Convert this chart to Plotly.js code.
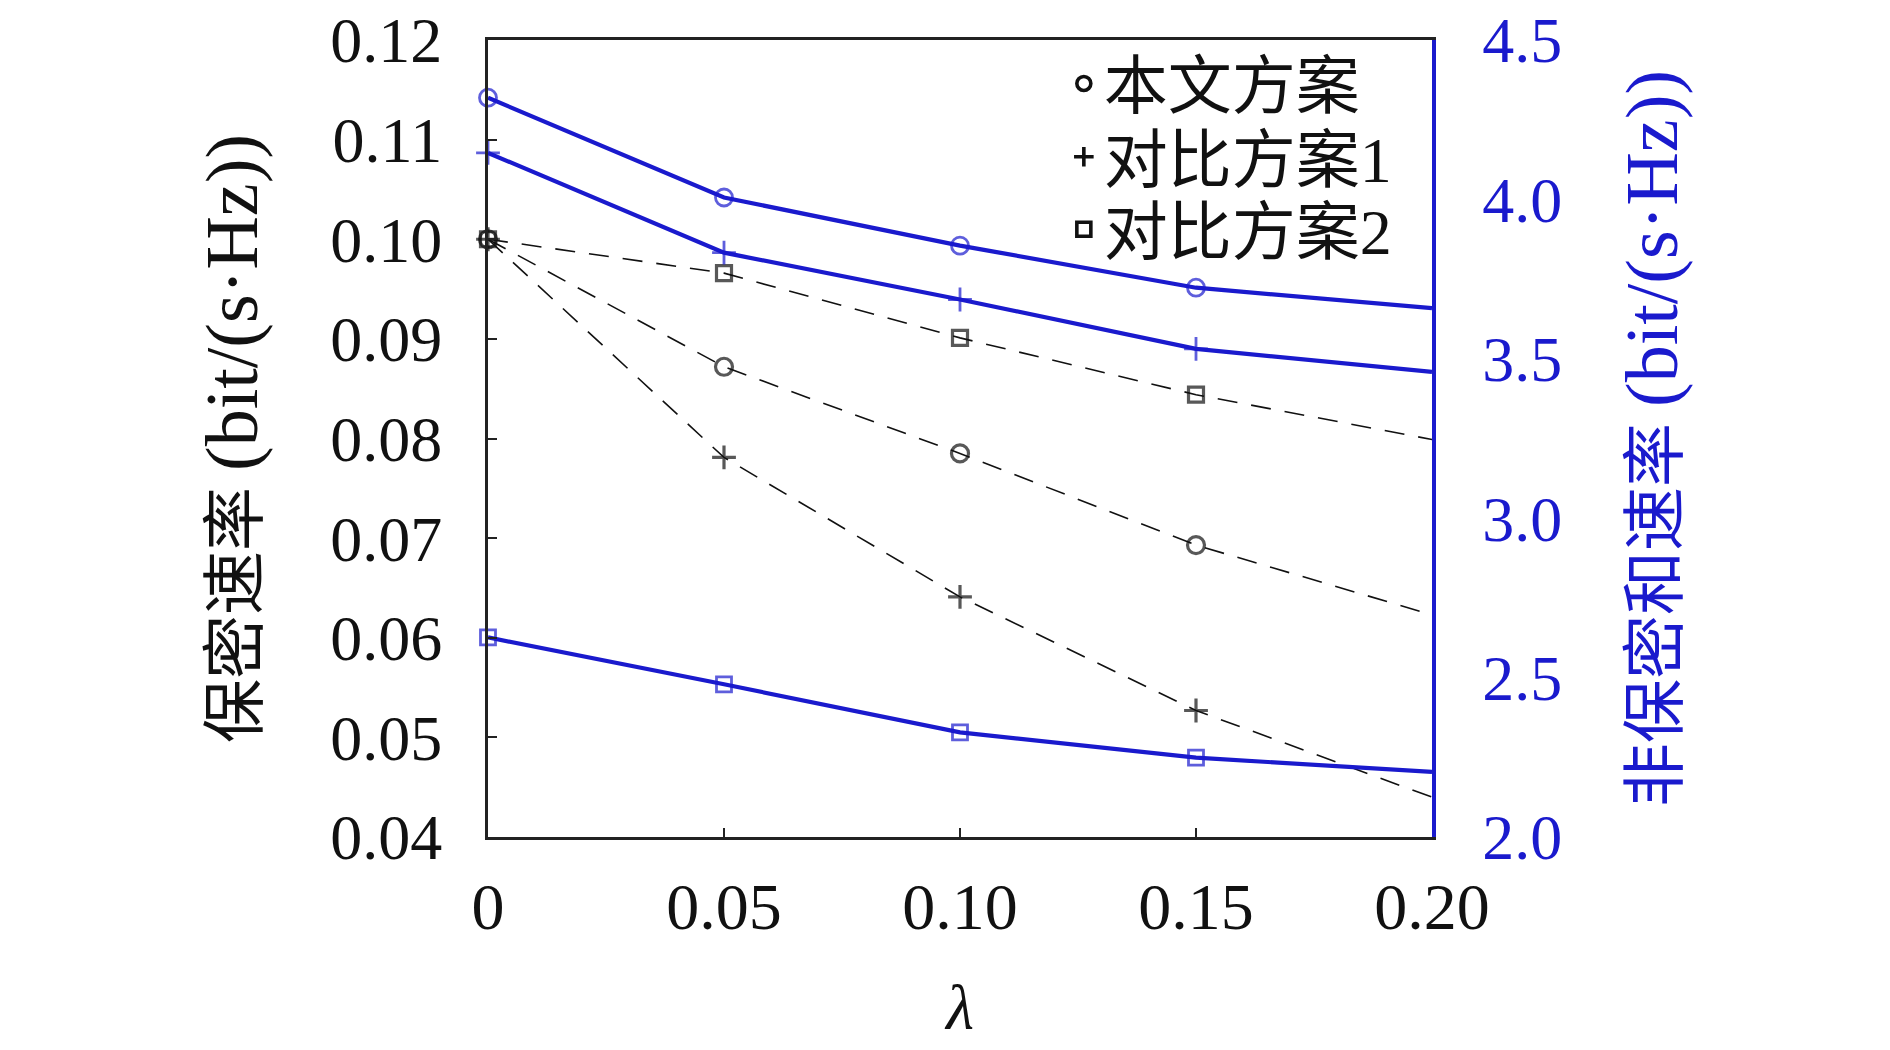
<!DOCTYPE html>
<html>
<head>
<meta charset="utf-8">
<script src="https://cdn.plot.ly/plotly-3.0.1.min.js"></script>
<style>html,body{margin:0;padding:0;background:#fff;}#chart{width:1890px;height:1050px;}</style>
</head>
<body>
<div id="chart"></div>
<script>
// ---- data ----
const lambda = [0, 0.05, 0.10, 0.15, 0.20];
const xTickVals = [0, 0.05, 0.10, 0.15, 0.20];
const xTickText = ['0', '0.05', '0.10', '0.15', '0.20'];
const yTickVals = [0.04, 0.05, 0.06, 0.07, 0.08, 0.09, 0.10, 0.11, 0.12];
const yTickText = ['0.04', '0.05', '0.06', '0.07', '0.08', '0.09', '0.10', '0.11', '0.12'];
const y2TickVals = [2.0, 2.5, 3.0, 3.5, 4.0, 4.5];
const y2TickText = ['2.0', '2.5', '3.0', '3.5', '4.0', '4.5'];

const schemeNames = ['本文方案', '对比方案1', '对比方案2'];
// secrecy rate (left axis)
const secProposed = [0.1000, 0.0872, 0.0785, 0.0693, 0.0623];
const secCompare1 = [0.1000, 0.0781, 0.0641, 0.0527, 0.0440];
const secCompare2 = [0.1000, 0.0966, 0.0901, 0.0844, 0.0799];
// non-secrecy sum rate (right axis)
const sumProposed = [4.319, 4.006, 3.855, 3.723, 3.659];
const sumCompare1 = [4.146, 3.833, 3.686, 3.531, 3.459];
const sumCompare2 = [2.626, 2.479, 2.328, 2.249, 2.204];

// ---- styles ----
const BLUE = '#1a1acd';
const FONT = '"Liberation Serif", "Noto Sans CJK SC", serif';
const symbols = ['circle-open', 'cross-thin-open', 'square-open'];
const msizes = [17, 17, 15];
const mk = (s) => [s, s, s, s, 0];

const secSeries = [secProposed, secCompare1, secCompare2];
const sumSeries = [sumProposed, sumCompare1, sumCompare2];

const traces = [];
secSeries.forEach((ys, i) => {
  traces.push({
    x: lambda, y: ys, type: 'scatter', mode: 'lines+markers', yaxis: 'y',
    showlegend: false, name: schemeNames[i],
    line: {color: '#111', width: 1.6, dash: '20px,14px'},
    marker: {symbol: symbols[i], size: mk(msizes[i]), color: '#111', line: {color: '#111', width: 3.2}},
    cliponaxis: false
  });
});
sumSeries.forEach((ys, i) => {
  traces.push({
    x: lambda, y: ys, type: 'scatter', mode: 'lines+markers', yaxis: 'y2',
    showlegend: false, name: schemeNames[i],
    line: {color: BLUE, width: 4.2},
    marker: {symbol: symbols[i], size: mk(msizes[i]), color: BLUE, line: {color: BLUE, width: 2.8}},
    cliponaxis: false
  });
});
// legend entries (markers only, black), one legend box per row
const legendIds = ['legend', 'legend2', 'legend3'];
schemeNames.forEach((n, i) => {
  traces.push({
    x: [null], y: [null], type: 'scatter', mode: 'markers', yaxis: 'y',
    name: n, showlegend: true, legend: legendIds[i],
    marker: {symbol: symbols[i], size: 14, color: '#111', line: {color: '#111', width: 3.6}}
  });
});

const legendRowY = [0.945, 0.853, 0.762];
const legendBase = (yy) => ({
  x: 0.610, y: yy, xanchor: 'left', yanchor: 'middle',
  bgcolor: 'rgba(0,0,0,0)', borderwidth: 0,
  font: {family: FONT, size: 64, color: '#111'},
  itemwidth: 30
});

const leftTitle = '保密速率 <span style="font-size:74px">(bit/(s·Hz))</span>';
const rightTitle = '非保密和速率 <span style="font-size:74px">(bit/(s·Hz))</span>';

const layout = {
  width: 1890, height: 1050,
  margin: {l: 488, r: 458, t: 40, b: 213},
  paper_bgcolor: '#ffffff', plot_bgcolor: '#ffffff',
  font: {family: FONT, size: 64, color: '#111'},
  showlegend: true,
  legend: legendBase(legendRowY[0]),
  legend2: legendBase(legendRowY[1]),
  legend3: legendBase(legendRowY[2]),
  xaxis: {
    range: [0, 0.20], tickvals: xTickVals, ticktext: xTickText,
    showgrid: false, zeroline: false,
    showline: true, linecolor: '#222', linewidth: 3, mirror: true,
    ticks: 'inside', ticklen: 9, tickwidth: 2, tickcolor: '#222',
    ticklabelstandoff: 10, ticklabeloverflow: 'allow',
    tickfont: {family: FONT, size: 66, color: '#111'},
    title: {text: '<i>λ</i>', font: {family: FONT, size: 64, color: '#111'}, standoff: 42}
  },
  yaxis: {
    range: [0.04, 0.12], tickvals: yTickVals, ticktext: yTickText,
    showgrid: false, zeroline: false,
    showline: true, linecolor: '#222', linewidth: 3,
    ticks: 'inside', ticklen: 9, tickwidth: 2, tickcolor: '#222',
    ticklabelstandoff: 30, ticklabeloverflow: 'allow',
    tickfont: {family: FONT, size: 64, color: '#111'},
    title: {text: leftTitle, font: {family: FONT, size: 64, color: '#111'}, standoff: 52}
  },
  yaxis2: {
    overlaying: 'y', side: 'right', anchor: 'x',
    range: [2.0, 4.5], tickvals: y2TickVals, ticktext: y2TickText,
    showgrid: false, zeroline: false,
    showline: true, linecolor: BLUE, linewidth: 3.5,
    ticks: '', ticklabelstandoff: 34, ticklabeloverflow: 'allow',
    tickfont: {family: FONT, size: 64, color: BLUE},
    title: {text: rightTitle, font: {family: FONT, size: 64, color: BLUE}, standoff: 72}
  }
};

Plotly.newPlot('chart', traces, layout, {displayModeBar: false, staticPlot: true});
</script>
</body>
</html>
